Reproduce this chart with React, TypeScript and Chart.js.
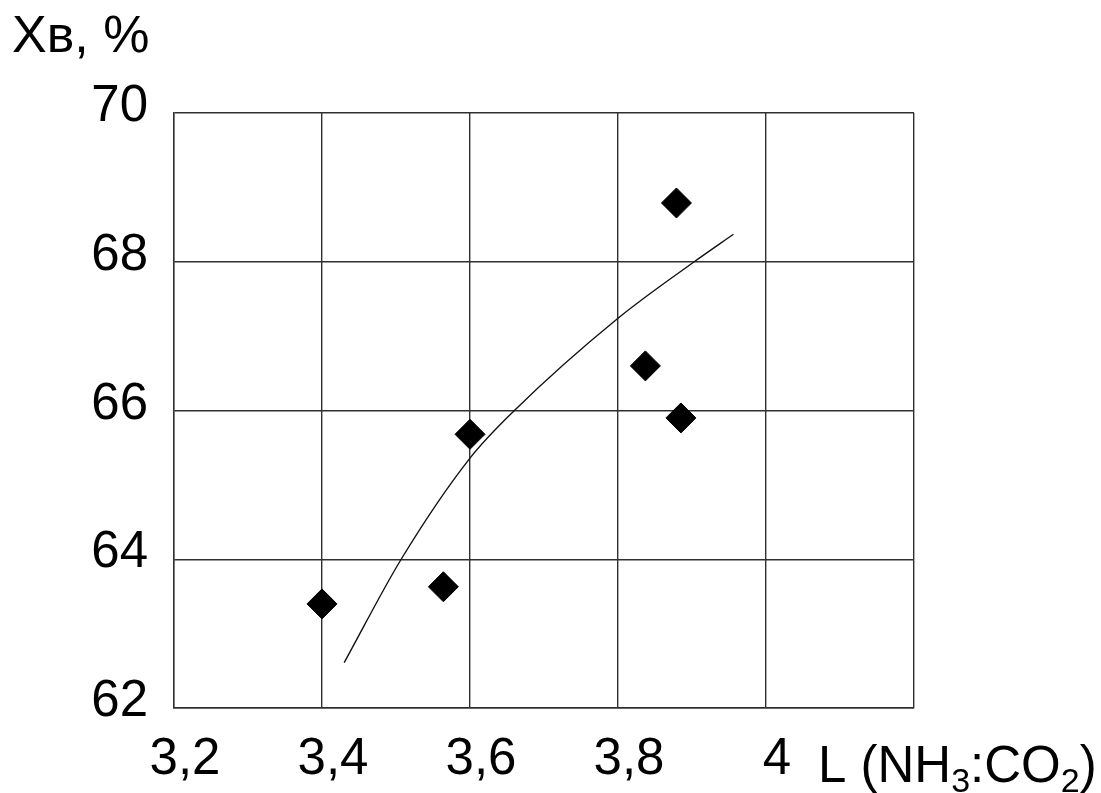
import React, { useEffect, useRef } from "react";
import { Chart, registerables } from "chart.js";

Chart.register(...registerables);

// Experimental points: L (NH3:CO2) vs Xв, %
const pointsX = [3.4, 3.564, 3.6, 3.837, 3.879, 3.885];
const pointsY = [63.4, 63.63, 65.68, 66.6, 68.79, 65.9];

// Trend curve
const curveX = [3.43, 3.507, 3.6, 3.66, 3.8, 3.903, 3.956];
const curveY = [62.61, 64.0, 65.36, 66.0, 67.24, 68.0, 68.37];

const xTickLabels = ["3,2", "3,4", "3,6", "3,8", "4", ""];
const yTickLabels = ["62", "64", "66", "68", "70"];

const yTitle = "Xв, %";
const xTitleParts = [
  { text: "L (NH", sub: false },
  { text: "3", sub: true },
  { text: ":CO", sub: false },
  { text: "2", sub: true },
  { text: ")", sub: false },
];

const FONT = '"Liberation Sans", Arial, sans-serif';
const GRID = "#303030";
const FS = 51;

const titlesPlugin = {
  id: "titles",
  afterDraw(chart: any) {
    const ctx = chart.ctx;
    ctx.save();
    ctx.fillStyle = "#000";
    ctx.textBaseline = "alphabetic";
    ctx.textAlign = "left";
    ctx.font = `52px ${FONT}`;
    ctx.fillText(yTitle, 12, 52);
    let x = 818;
    const base = 782;
    for (const p of xTitleParts) {
      if (p.sub) {
        ctx.font = `34px ${FONT}`;
        ctx.fillText(p.text, x, base + 10);
      } else {
        ctx.font = `${FS}px ${FONT}`;
        ctx.fillText(p.text, x, base);
      }
      x += ctx.measureText(p.text).width;
    }
    ctx.restore();
  },
};

export default function App() {
  const ref = useRef<HTMLCanvasElement>(null);
  useEffect(() => {
    if (!ref.current) return;
    const chart = new Chart(ref.current, {
      type: "scatter",
      data: {
        datasets: [
          {
            label: "points",
            data: pointsX.map((x, i) => ({ x, y: pointsY[i] })),
            pointStyle: "rectRot",
            pointRadius: 15,
            pointHoverRadius: 15,
            backgroundColor: "#000",
            borderColor: "#000",
            borderWidth: 1,
            showLine: false,
          },
          {
            label: "curve",
            data: curveX.map((x, i) => ({ x, y: curveY[i] })),
            showLine: true,
            pointRadius: 0,
            borderColor: "#111",
            borderWidth: 1.4,
            cubicInterpolationMode: "monotone",
            fill: false,
          },
        ],
      },
      options: {
        responsive: false,
        animation: false,
        events: [],
        layout: { padding: { left: 0, top: 113, right: 187, bottom: 0 } },
        plugins: {
          legend: { display: false },
          tooltip: { enabled: false },
        },
        scales: {
          x: {
            type: "linear",
            min: 3.2,
            max: 4.2,
            ticks: {
              stepSize: 0.2,
              color: "#000",
              font: { family: FONT, size: FS },
              padding: 21,
              labelOffset: 11,
              maxRotation: 0,
              autoSkip: false,
              callback: (_v: any, i: number) => xTickLabels[i] ?? "",
            },
            grid: { color: GRID, lineWidth: 1.4, drawTicks: false },
            border: { color: GRID, width: 1.4 },
            afterFit: (s: any) => {
              s.height = 85;
            },
          },
          y: {
            type: "linear",
            min: 62,
            max: 70,
            ticks: {
              stepSize: 2,
              color: "#000",
              font: { family: FONT, size: FS },
              padding: 26,
              labelOffset: -6,
              autoSkip: false,
              callback: (_v: any, i: number) => yTickLabels[i] ?? "",
            },
            grid: { color: GRID, lineWidth: 1.4, drawTicks: false },
            border: { color: GRID, width: 1.4 },
            afterFit: (s: any) => {
              s.width = 174;
            },
          },
        },
      },
      plugins: [titlesPlugin],
    } as any);
    return () => chart.destroy();
  }, []);
  return (
    <div style={{ position: "absolute", left: 0, top: 0, width: 1101, height: 793, background: "#fff" }}>
      <canvas ref={ref} width={1101} height={793} style={{ display: "block" }} />
    </div>
  );
}
